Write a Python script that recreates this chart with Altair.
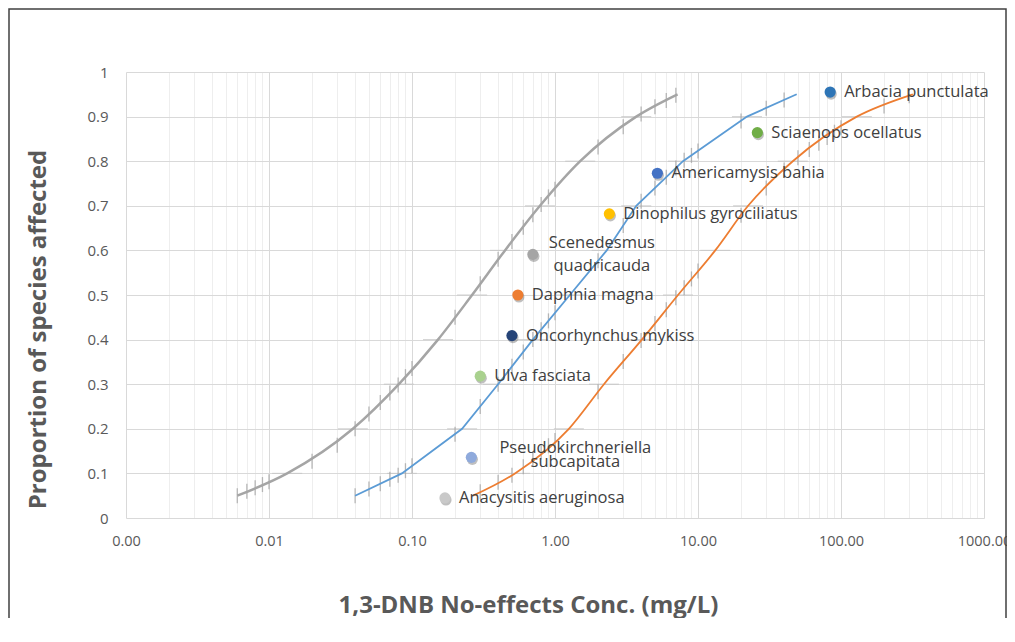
import altair as alt
import pandas as pd

# ---------------- data ----------------
species = ["Arbacia punctulata", "Sciaenops ocellatus", "Americamysis bahia",
           "Dinophilus gyrociliatus", "Scenedesmus quadricauda", "Daphnia magna",
           "Oncorhynchus mykiss", "Ulva fasciata", "Pseudokirchneriella subcapitata",
           "Anacysitis aeruginosa"]
labels = ["Arbacia punctulata", "Sciaenops ocellatus", "Americamysis bahia",
          "Dinophilus gyrociliatus", "Scenedesmus\nquadricauda", "Daphnia magna",
          "Oncorhynchus mykiss", "Ulva fasciata", "Pseudokirchneriella\nsubcapitata",
          "Anacysitis aeruginosa"]
conc = [84, 26, 5.2, 2.4, 0.70, 0.55, 0.50, 0.30, 0.26, 0.17]
prop = [0.955, 0.864, 0.773, 0.682, 0.591, 0.5, 0.409, 0.318, 0.136, 0.045]
pt_colors = ["#2e75b6", "#70ad47", "#4472c4", "#ffc000", "#a5a5a5", "#ed7d31",
             "#264478", "#a9d18e", "#8faadc", "#c9c9c9"]

curve_y = [0.05, 0.1, 0.2, 0.3, 0.4, 0.5, 0.6, 0.7, 0.8, 0.9, 0.95]
gray_x = [0.006, 0.0134, 0.0386, 0.081, 0.152, 0.263, 0.447, 0.785, 1.5, 3.7, 7.2]
blue_x = [0.04, 0.085, 0.224, 0.40, 0.70, 1.27, 2.3, 3.7, 7.85, 22, 49]
orange_x = [0.267, 0.525, 1.25, 2.2, 4.05, 7.25, 13.2, 22.4, 46, 129, 318]

gray_tick_x = [0.006, 0.007, 0.008, 0.009, 0.01, 0.02, 0.03, 0.04, 0.05, 0.06, 0.07,
               0.08, 0.09, 0.1, 0.2, 0.3, 0.4, 0.5, 0.6, 0.7, 0.8, 0.9, 1, 2, 3, 4,
               5, 6, 7]
gray_tick_y = [0.05, 0.06, 0.068, 0.075, 0.081, 0.127, 0.163, 0.2, 0.233, 0.259, 0.28,
               0.298, 0.317, 0.335, 0.45, 0.525, 0.58, 0.62, 0.652, 0.68, 0.703, 0.72,
               0.737, 0.832, 0.877, 0.906, 0.922, 0.936, 0.948]
blue_tick_x = [0.04, 0.05, 0.06, 0.07, 0.08, 0.09, 0.1, 0.2, 0.3, 0.4, 0.5, 0.6, 0.7,
               0.8, 0.9, 1, 2, 3, 4, 5, 6, 7, 8, 9, 10, 20, 30, 40]
blue_tick_y = [0.05, 0.065, 0.077, 0.087, 0.096, 0.106, 0.117, 0.188, 0.25, 0.3, 0.34,
               0.372, 0.4, 0.422, 0.442, 0.46, 0.577, 0.656, 0.71, 0.74, 0.764, 0.785,
               0.802, 0.813, 0.823, 0.89, 0.919, 0.937]
orange_tick_x = [0.3, 0.4, 0.5, 0.6, 0.7, 0.8, 0.9, 1, 2, 3, 4, 5, 6, 7, 8, 9, 10, 20,
                 30, 40, 50, 60, 70, 80, 90, 100, 200, 300]
orange_tick_y = [0.059, 0.08, 0.096, 0.115, 0.133, 0.148, 0.162, 0.174, 0.283, 0.351,
                 0.398, 0.436, 0.467, 0.494, 0.516, 0.536, 0.554, 0.679, 0.74, 0.78,
                 0.808, 0.826, 0.84, 0.853, 0.865, 0.875, 0.924, 0.947]

x_grid_vals = [m * 10 ** k for k in range(-3, 3) for m in range(1, 10)] + [1000]
y_vals = [i / 10 for i in range(11)]

# ---------------- tables ----------------
pts = pd.DataFrame({"species": species, "label": labels, "x": conc,
                    "y": prop, "color": pt_colors})
g_df = pd.DataFrame({"x": gray_x, "y": curve_y})
b_df = pd.DataFrame({"x": blue_x, "y": curve_y})
o_df = pd.DataFrame({"x": orange_x, "y": curve_y})
ticks_df = pd.concat([
    pd.DataFrame({"x": gray_tick_x, "y": gray_tick_y}),
    pd.DataFrame({"x": blue_tick_x, "y": blue_tick_y}),
    pd.DataFrame({"x": orange_tick_x, "y": orange_tick_y}),
])
hbar_df = pd.concat([g_df.iloc[1:-1], b_df.iloc[1:-1], o_df.iloc[1:-1]])

FONT = "Open Sans"
decade = "abs(log(datum.value)/LN10 - round(log(datum.value)/LN10)) < 0.001"
xscale = alt.Scale(type="log", domain=[0.001, 1000])
yscale = alt.Scale(domain=[0, 1])

x_axis = alt.Axis(
    values=x_grid_vals, grid=True,
    gridColor={"condition": {"test": decade, "value": "#d9d9d9"}, "value": "#eeeeee"},
    labelExpr=f"({decade}) ? format(datum.value, '.2f') : ''",
    labelOverlap=False, labelFlush=False, ticks=False, tickSize=0, domain=False,
    labelPadding=16, labelFontSize=14.5, labelColor="#595959", labelFont=FONT,
    title="1,3-DNB No-effects Conc. (mg/L)", titleFontSize=24, titleFont=FONT,
    titleFontWeight="bold", titleColor="#595959", titleX=402, titleY=87,
    titleBaseline="middle", titleAlign="center",
)
y_axis = alt.Axis(
    values=y_vals, grid=True, gridColor="#d9d9d9", format="~g",
    ticks=False, tickSize=0, domain=False, labelPadding=18, labelFontSize=15,
    labelColor="#595959", labelFont=FONT,
    title="Proportion of species affected", titleFontSize=24, titleFont=FONT,
    titleFontWeight="bold", titleColor="#595959", titleX=-88, titleY=257,
    titleBaseline="middle", titleAlign="center", titleAngle=-90,
)

X = alt.X("x:Q", scale=xscale, axis=x_axis)
Y = alt.Y("y:Q", scale=yscale, axis=y_axis)

vticks = alt.Chart(ticks_df).mark_tick(orient="vertical", size=15, thickness=1.3,
                                       color="#a6a6a6", opacity=0.8).encode(x=X, y=Y)
hbars = alt.Chart(hbar_df).mark_tick(orient="horizontal", size=30, thickness=1.2,
                                     color="#c4c4c4", opacity=0.7).encode(x=X, y=Y)

gray_line = alt.Chart(g_df).mark_line(color="#a5a5a5", strokeWidth=2.5,
                                      interpolate="monotone").encode(x=X, y=Y, order="y:Q")
blue_line = alt.Chart(b_df).mark_line(color="#5b9bd5", strokeWidth=1.8).encode(
    x=X, y=Y, order="y:Q")
orange_line = alt.Chart(o_df).mark_line(color="#ed7d31", strokeWidth=1.8,
                                        interpolate="monotone").encode(x=X, y=Y, order="y:Q")

shadow = alt.Chart(pts).mark_circle(size=125, color="#000000", opacity=0.25,
                                    xOffset=1, yOffset=2).encode(x=X, y=Y)
points = alt.Chart(pts).mark_circle(size=125, opacity=1).encode(
    x=X, y=Y, color=alt.Color("color:N", scale=None))

LFS = 16.5
single = alt.Chart(pts).transform_filter(
    "indexof(datum.label, '\\n') < 0"
).mark_text(align="left", baseline="middle", dx=14, fontSize=LFS, font=FONT,
            color="#404040").encode(x=X, y=Y, text="label:N")
sced = alt.Chart(pts).transform_filter(
    alt.datum.species == "Scenedesmus quadricauda"
).mark_text(align="center", baseline="middle", dx=69, dy=-11, lineBreak="\n",
            lineHeight=23, fontSize=LFS, font=FONT, color="#404040").encode(
    x=X, y=Y, text="label:N")
pseudo = alt.Chart(pts).transform_filter(
    alt.datum.species == "Pseudokirchneriella subcapitata"
).mark_text(align="center", baseline="middle", dx=104, dy=-9, lineBreak="\n",
            lineHeight=14, fontSize=LFS, font=FONT, color="#404040").encode(
    x=X, y=Y, text="label:N")

frame = alt.Chart(pd.DataFrame({"a": [0]})).mark_rect(
    filled=False, stroke="#404040", strokeWidth=1.5).encode(
    x=alt.value(-117), x2=alt.value(880), y=alt.value(-63), y2=alt.value(640))

chart = alt.layer(
    frame, hbars, vticks, gray_line, blue_line, orange_line,
    shadow, points, single, sced, pseudo
).properties(
    width=858, height=446,
    autosize=alt.AutoSizeParams(type="none"),
    padding={"left": 118, "top": 64, "right": 23, "bottom": 100},
    background="white",
).configure_view(stroke=None)

chart.save("out.html", embed_options={"renderer": "svg", "actions": False})
